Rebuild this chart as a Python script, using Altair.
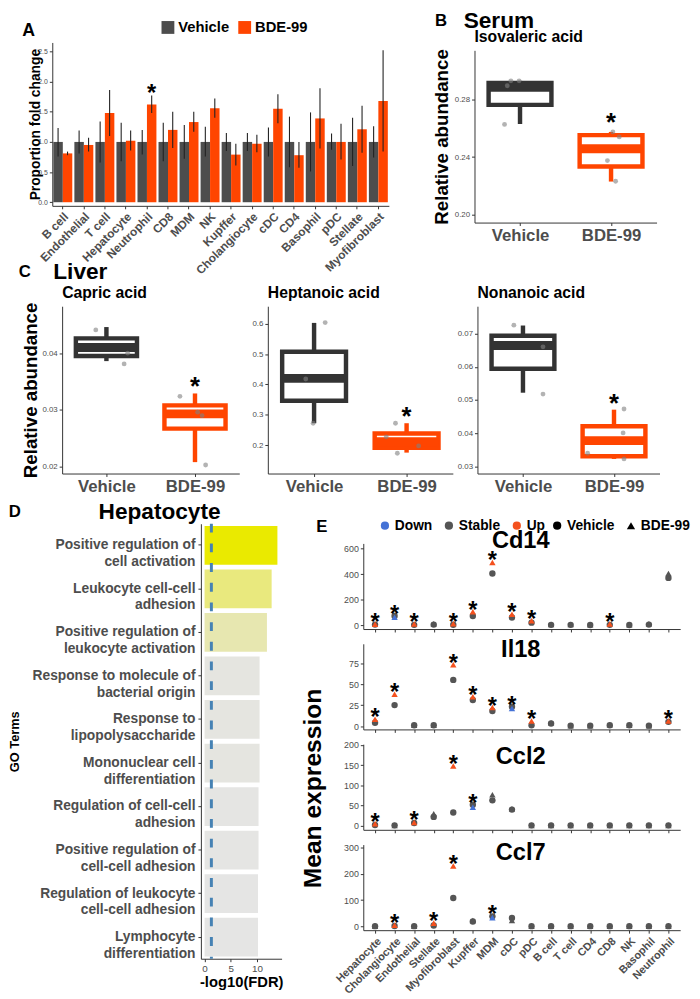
import altair as alt
import pandas as pd

FONT = "Liberation Sans"
VEH = "#4d4d4d"
BDE = "#ff4500"
VEH_BOX = "#333333"
E_BLUE = "#4472d6"
E_GREY = "#555555"
E_ORANGE = "#f4511e"
LBL = "#4d4d4d"

# ---------------- Panel A data ----------------
a_cells = ["B cell", "Endothelial", "T cell", "Hepatocyte", "Neutrophil", "CD8", "MDM", "NK",
           "Kupffer", "Cholangiocyte", "cDC", "CD4", "Basophil", "pDC", "Stellate", "Myofibroblast"]
a_veh_mean = [1.0] * 16
a_veh_lo = [0.76, 0.81, 0.66, 0.68, 0.79, 0.68, 0.72, 0.76, 0.85, 0.85, 0.76, 0.58, 0.51, 0.87, 0.60, 0.74]
a_veh_hi = [1.23, 1.19, 1.34, 1.32, 1.20, 1.32, 1.28, 1.25, 1.15, 1.15, 1.24, 1.42, 1.49, 1.14, 1.40, 1.26]
a_bde_mean = [0.81, 0.95, 1.48, 1.02, 1.62, 1.20, 1.33, 1.56, 0.79, 0.97, 1.55, 0.78, 1.39, 1.00, 1.21, 1.68]
a_bde_lo = [0.78, 0.84, 1.10, 0.86, 1.48, 0.90, 1.17, 1.40, 0.61, 0.83, 1.31, 0.57, 0.89, 0.71, 0.82, 0.84]
a_bde_hi = [0.84, 1.07, 1.86, 1.19, 1.77, 1.50, 1.50, 1.72, 0.97, 1.12, 1.79, 1.00, 1.89, 1.30, 1.60, 2.52]
a_sig = ["Neutrophil"]
a_ticks = [0.0, 0.5, 1.0, 1.5, 2.0, 2.5]
groups = ["Vehicle", "BDE-99"]

# ---------------- Panel B / C data (box plots) ----------------
# stats: (lower whisker, q1, median, q3, upper whisker)
serum_veh_stats = (0.2630, 0.2763, 0.2885, 0.2915, 0.2930)
serum_bde_stats = (0.2230, 0.2335, 0.2458, 0.2553, 0.2575)
serum_veh_pts = [0.2627, 0.2896, 0.2930, 0.2930]
serum_bde_pts = [0.2575, 0.2540, 0.2376, 0.2232]
serum_veh_jit = [-0.17, -0.14, -0.10, -0.01]
serum_bde_jit = [0.02, 0.09, -0.04, 0.05]
serum_ticks = [0.20, 0.24, 0.28]

capric_veh_stats = (0.0386, 0.0395, 0.0410, 0.0426, 0.0446)
capric_bde_stats = (0.0208, 0.0267, 0.0293, 0.0308, 0.0329)
capric_veh_pts = [0.0441, 0.0400, 0.0381]
capric_bde_pts = [0.0324, 0.0296, 0.0290, 0.0203]
capric_veh_jit = [-0.12, 0.24, 0.20]
capric_bde_jit = [-0.17, 0.03, 0.08, 0.12]
capric_ticks = [0.02, 0.03, 0.04]

hept_veh_stats = (0.272, 0.346, 0.420, 0.508, 0.603)
hept_bde_stats = (0.175, 0.191, 0.211, 0.238, 0.272)
hept_veh_pts = [0.604, 0.418, 0.272]
hept_bde_pts = [0.272, 0.227, 0.197, 0.173]
hept_veh_jit = [0.12, -0.09, -0.01]
hept_bde_jit = [-0.12, -0.22, 0.13, -0.10]
hept_ticks = [0.2, 0.3, 0.4, 0.5, 0.6]

nonan_veh_stats = (0.0522, 0.0594, 0.0664, 0.0693, 0.0724)
nonan_bde_stats = (0.0323, 0.0331, 0.0378, 0.0421, 0.0471)
nonan_veh_pts = [0.0725, 0.0660, 0.0518]
nonan_bde_pts = [0.0473, 0.0401, 0.0340, 0.0323]
nonan_veh_jit = [-0.10, 0.22, 0.22]
nonan_bde_jit = [0.11, 0.10, -0.29, 0.11]
nonan_ticks = [0.03, 0.04, 0.05, 0.06, 0.07]

# ---------------- Panel D data ----------------
d_terms = ["Positive regulation of\ncell activation", "Leukocyte cell-cell\nadhesion",
           "Positive regulation of\nleukocyte activation", "Response to molecule of\nbacterial origin",
           "Response to\nlipopolysaccharide", "Mononuclear cell\ndifferentiation",
           "Regulation of cell-cell\nadhesion", "Positive regulation of\ncell-cell adhesion",
           "Regulation of leukocyte\ncell-cell adhesion", "Lymphocyte\ndifferentiation"]
d_vals = [13.9, 12.8, 11.9, 10.5, 10.5, 10.5, 10.3, 10.3, 10.2, 10.2]
d_threshold = 1.3
d_ticks = [0, 5, 10]

# ---------------- Panel E data ----------------
e_cells = ["Hepatocyte", "Cholangiocyte", "Endothelial", "Stellate", "Myofibroblast", "Kupffer", "MDM",
           "cDC", "pDC", "B cell", "T cell", "CD4", "CD8", "NK", "Basophil", "Neutrophil"]
cd14_veh = [5, 72, 3, 5, 4, 72, 405, 60, 20, 3, 3, 2, 3, 2, 5, 370]
cd14_bde = [8, 62, 10, 12, 12, 105, 490, 85, 35, 5, 5, 3, 10, 3, 12, 405]
cd14_status = ["Up", "Down", "Up", "Stable", "Up", "Up", "Up", "Up", "Up", "Stable", "Stable", "Stable",
               "Up", "Stable", "Stable", "Stable"]
il18_veh = [4, 25, 1, 1, 55, 31, 18, 23, 1, 3, 0.5, 0.5, 1, 1, 0.5, 5]
il18_bde = [8, 38, 1, 1, 73, 35, 22, 21, 6, 4, 0.5, 0.5, 1.5, 1, 0.5, 6]
il18_status = ["Up", "Up", "Stable", "Stable", "Up", "Up", "Up", "Down", "Up", "Stable", "Stable", "Stable",
               "Stable", "Stable", "Stable", "Up"]
ccl2_veh = [2, 1, 7, 22, 33, 52, 63, 40, 1, 1, 1, 1, 1, 1, 1, 1]
ccl2_bde = [5, 1, 8, 30, 148, 46, 77, 42, 1, 1, 1, 1, 1, 1, 1, 1]
ccl2_status = ["Up", "Stable", "Up", "Stable", "Up", "Down", "Stable", "Stable", "Stable", "Stable", "Stable",
               "Stable", "Stable", "Stable", "Stable", "Stable"]
ccl7_veh = [0.5, 1, 0.5, 3, 108, 18, 38, 32, 0.5, 0.5, 0.5, 0.5, 0.5, 0.5, 0.5, 0.5]
ccl7_bde = [0.5, 4, 0.5, 12, 230, 22, 33, 22, 0.5, 0.5, 0.5, 0.5, 0.5, 0.5, 0.5, 0.5]
ccl7_status = ["Stable", "Up", "Stable", "Up", "Up", "Stable", "Down", "Stable", "Stable", "Stable", "Stable",
               "Stable", "Stable", "Stable", "Stable", "Stable"]


# ---------------- helpers ----------------
def label(text, x, y, size, align="center", angle=0, color="black"):
    kw = dict(fontSize=size, fontWeight="bold", font=FONT, align=align, baseline="middle", color=color)
    if angle:
        kw["angle"] = angle
    return alt.Chart(pd.DataFrame({"t": [text]})).mark_text(**kw).encode(
        x=alt.value(x), y=alt.value(y), text="t:N")


def spacer(w, h):
    return alt.Chart(pd.DataFrame({"s": [0]})).mark_point(opacity=0).encode(
        x=alt.X("s:Q", axis=None), y=alt.Y("s:Q", axis=None)).properties(width=w, height=h)


def axis_common(**kw):
    base = dict(grid=False, domainColor="#333", tickColor="#333", tickSize=3, labelFont=FONT, titleFont=FONT)
    base.update(kw)
    return alt.Axis(**base)


# ---------------- Panel A ----------------
rows = []
for i, c in enumerate(a_cells):
    rows.append(dict(cell=c, group="Vehicle", mean=a_veh_mean[i], lo=a_veh_lo[i], hi=a_veh_hi[i], star=""))
    rows.append(dict(cell=c, group="BDE-99", mean=a_bde_mean[i], lo=a_bde_lo[i], hi=a_bde_hi[i],
                     star="*" if c in a_sig else ""))
dfA = pd.DataFrame(rows)

xA = alt.X("cell:N", sort=a_cells, scale=alt.Scale(paddingInner=0.1, paddingOuter=0.05),
           axis=axis_common(title=None, labelAngle=315, labelFontSize=12, labelFontWeight="bold",
                            labelColor=LBL, labelAlign="right", labelBaseline="top", labelPadding=2))
xoffA = alt.XOffset("group:N", sort=groups, scale=alt.Scale(domain=groups))
yscaleA = alt.Scale(domain=[-0.06, 2.65], nice=False)
yaxA = axis_common(values=a_ticks, format=".1f", labelFontSize=7, labelColor=LBL,
                   title="Proportion fold change", titleFontSize=14, titleFontWeight="bold",
                   titleColor="black", titleX=-17, titleAngle=270, titleBaseline="middle")

barsA = alt.Chart(dfA).mark_bar().encode(
    x=xA, xOffset=xoffA,
    y=alt.Y("mean:Q", scale=yscaleA, axis=yaxA, title="Proportion fold change"),
    color=alt.Color("group:N", sort=groups, scale=alt.Scale(domain=groups, range=[VEH, BDE]),
                    legend=alt.Legend(title=None, orient="none", legendX=110, legendY=-23,
                                      direction="horizontal", symbolType="square", symbolSize=170,
                                      symbolStrokeWidth=0, labelFontSize=15, labelFontWeight="bold",
                                      labelColor="black", labelFont=FONT, columnPadding=8, labelOffset=3)))
errA = alt.Chart(dfA).mark_rule(color="#222222", strokeWidth=1.1).encode(
    x=xA, xOffset=xoffA, y=alt.Y("lo:Q", scale=yscaleA, axis=yaxA, title="Proportion fold change"), y2="hi:Q")
starA = alt.Chart(dfA).mark_text(fontSize=24, fontWeight="bold", font=FONT, baseline="alphabetic",
                                 dy=6, color="black").encode(
    x=xA, xOffset=xoffA, y=alt.Y("hi:Q", scale=yscaleA, axis=yaxA, title="Proportion fold change"),
    text="star:N")
chartA = alt.layer(barsA, errA, starA, label("A", -24, -12, 18)).properties(width=342, height=166)


# ---------------- Box plot builder ----------------
def box_chart(vstats, bstats, vpts, bpts, vjit, bjit, domain, ticks, fmt, sig, width, height,
              ytitle=None, ytitle_x=-32, texts=(), star_dy=2):
    stats = pd.DataFrame({
        "idx": [0, 1], "group": groups,
        "wlo": [vstats[0], bstats[0]], "q1": [vstats[1], bstats[1]], "med": [vstats[2], bstats[2]],
        "q3": [vstats[3], bstats[3]], "whi": [vstats[4], bstats[4]],
        "star": ["*" if g in sig else "" for g in groups]})
    pts = pd.DataFrame({"idx": [0] * len(vpts) + [1] * len(bpts), "val": list(vpts) + list(bpts),
                        "jit": list(vjit) + list(bjit)})
    xax = axis_common(values=[0, 1], labelExpr="datum.value == 0 ? 'Vehicle' : 'BDE-99'", title=None,
                      labelFontSize=17, labelFontWeight="bold", labelColor=LBL, labelPadding=2)
    xs = alt.Scale(domain=[-0.5, 1.5], nice=False)
    ys = alt.Scale(domain=domain, nice=False, zero=False)
    yax = axis_common(values=ticks, format=fmt, labelFontSize=8, labelColor=LBL, title=ytitle,
                      titleFontSize=19, titleFontWeight="bold", titleColor="black", titleX=ytitle_x,
                      titleAngle=270, titleBaseline="middle")

    def X(f):
        return alt.X(f, type="quantitative", scale=xs, axis=xax, title=None)

    def Y(f):
        return alt.Y(f, type="quantitative", scale=ys, axis=yax, title=ytitle)

    gscale = alt.Scale(domain=groups, range=[VEH_BOX, BDE])
    base = alt.Chart(stats).transform_calculate(xl="datum.idx - 0.345", xr="datum.idx + 0.345")
    whisk = base.mark_rule(strokeWidth=4.5).encode(
        x=X("idx"), y=Y("wlo"), y2="whi:Q", color=alt.Color("group:N", scale=gscale, legend=None))
    box = base.mark_rect(fill="white", strokeWidth=4.5).encode(
        x=X("xl"), x2="xr:Q", y=Y("q1"), y2="q3:Q", stroke=alt.Stroke("group:N", scale=gscale, legend=None))
    med = base.mark_rule(strokeWidth=9).encode(
        x=X("xl"), x2="xr:Q", y=Y("med"), color=alt.Color("group:N", scale=gscale, legend=None))
    points = alt.Chart(pts).transform_calculate(xp="datum.idx + datum.jit").mark_circle(
        size=24, color="#808080", opacity=0.6).encode(x=X("xp"), y=Y("val"))
    star = alt.Chart(stats).mark_text(fontSize=26, fontWeight="bold", font=FONT, baseline="alphabetic",
                                      dy=star_dy, color="black").encode(x=X("idx"), y=Y("whi"), text="star:N")
    layers = [whisk, box, med, points, star] + [label(*t) for t in texts]
    return alt.layer(*layers).properties(width=width, height=height)


chartB = box_chart(serum_veh_stats, serum_bde_stats, serum_veh_pts, serum_bde_pts, serum_veh_jit, serum_bde_jit,
                   [0.1945, 0.3142], serum_ticks, ".2f", ["BDE-99"], 185, 175,
                   ytitle="Relative abundance", ytitle_x=-33, star_dy=-1,
                   texts=[("B", -34, -30, 17), ("Serum", -11, -30, 23, "left"),
                          ("Isovaleric acid", 0, -13, 16, "left")])
chartC1 = box_chart(capric_veh_stats, capric_bde_stats, capric_veh_pts, capric_bde_pts, capric_veh_jit,
                    capric_bde_jit, [0.01879, 0.04827], capric_ticks, ".2f", ["BDE-99"], 180, 170,
                    ytitle="Relative abundance", ytitle_x=-32,
                    texts=[("C", -38, -35, 17), ("Liver", -9, -35, 23, "left"),
                           ("Capric acid", 0, -13, 16, "left")])
chartC2 = box_chart(hept_veh_stats, hept_bde_stats, hept_veh_pts, hept_bde_pts, hept_veh_jit, hept_bde_jit,
                    [0.106, 0.658], hept_ticks, ".1f", ["BDE-99"], 188, 170,
                    texts=[("Heptanoic acid", 0, -13, 16, "left")])
chartC3 = box_chart(nonan_veh_stats, nonan_bde_stats, nonan_veh_pts, nonan_bde_pts, nonan_veh_jit, nonan_bde_jit,
                    [0.0279, 0.0782], nonan_ticks, ".2f", ["BDE-99"], 185, 170,
                    texts=[("Nonanoic acid", 0, -13, 16, "left")])

# ---------------- Panel D ----------------
dfD = pd.DataFrame({"term": d_terms, "val": d_vals})
dmin, dmax = min(d_vals), max(d_vals)
xsD = alt.Scale(domain=[-0.7, 14.7], nice=False)
xaxD = axis_common(values=d_ticks, title="-log10(FDR)", titleFontSize=15, titleFontWeight="bold",
                   titleColor="black", labelFontSize=10, labelColor=LBL, titlePadding=1)
barsD = alt.Chart(dfD).transform_calculate(
    t="pow((datum.val - %f) / %f, 1.5)" % (dmin, dmax - dmin)).mark_bar().encode(
    y=alt.Y("term:N", sort=d_terms, scale=alt.Scale(paddingInner=0.11, paddingOuter=0.05),
            axis=axis_common(title="GO Terms", labelExpr="split(datum.label, '\\n')", labelFontSize=14,
                             labelFontWeight="bold", labelColor=LBL, labelLineHeight=17, labelLimit=300,
                             titleFontSize=13, titleFontWeight="bold", titleColor="black", titleX=-189,
                             titleAngle=270, titleBaseline="middle", labelPadding=3)),
    x=alt.X("val:Q", scale=xsD, axis=xaxD, title="-log10(FDR)"),
    color=alt.Color("t:Q", scale=alt.Scale(domain=[0, 1], range=["#e5e5e4", "#eaea00"]), legend=None))
ruleD = alt.Chart(pd.DataFrame({"thr": [d_threshold]})).mark_rule(
    color="#4682b4", strokeDash=[9, 11], strokeWidth=3).encode(
    x=alt.X("thr:Q", scale=xsD, axis=xaxD, title="-log10(FDR)"))
chartD = alt.layer(barsD, ruleD, label("D", -189, -12, 17), label("Hepatocyte", -42, -12, 23)).properties(
    width=82, height=442)


# ---------------- Panel E ----------------
def e_chart(gene, veh, bde, status, domain, ticks, show_x, title_y, legend=False, extra=()):
    rows = []
    for i, c in enumerate(e_cells):
        rows.append(dict(cell=c, group="Vehicle", val=veh[i], key="Vehicle"))
    for i, c in enumerate(e_cells):
        rows.append(dict(cell=c, group="BDE-99", val=bde[i], key=status[i]))
    df = pd.DataFrame(rows)
    st = pd.DataFrame({"cell": e_cells, "top": [max(a, b) for a, b in zip(veh, bde)],
                       "star": ["*" if s != "Stable" else "" for s in status]})
    if show_x:
        xax = axis_common(title=None, labelAngle=315, labelFontSize=11, labelFontWeight="bold", labelColor=LBL,
                          labelAlign="right", labelBaseline="top", labelPadding=2)
    else:
        xax = axis_common(title=None, labels=False)
    xE = alt.X("cell:N", sort=e_cells, scale=alt.Scale(type="point", padding=0.6), axis=xax)
    ys = alt.Scale(domain=domain, nice=False, zero=False)
    yax = axis_common(values=ticks, title=None, labelFontSize=9, labelColor=LBL)
    if legend:
        cleg = alt.Legend(title=None, orient="none", legendX=15, legendY=-25, direction="horizontal",
                          values=["Down", "Stable", "Up"], symbolType="circle", symbolSize=70,
                          symbolStrokeWidth=0, labelFontSize=14, labelFontWeight="bold", labelColor="black",
                          labelFont=FONT, columnPadding=9, labelOffset=3)
        sleg = alt.Legend(title=None, orient="none", legendX=190, legendY=-25, direction="horizontal",
                          symbolSize=70, symbolFillColor="black", symbolStrokeColor="black",
                          symbolStrokeWidth=0, labelFontSize=14, labelFontWeight="bold", labelColor="black",
                          labelFont=FONT, columnPadding=9, labelOffset=3)
    else:
        cleg = None
        sleg = None
    pts = alt.Chart(df).mark_point(filled=True, size=42, opacity=1).encode(
        x=xE, y=alt.Y("val:Q", scale=ys, axis=yax, title=None),
        color=alt.Color("key:N", scale=alt.Scale(domain=["Down", "Stable", "Up", "Vehicle"],
                                                 range=[E_BLUE, E_GREY, E_ORANGE, E_GREY]), legend=cleg),
        shape=alt.Shape("group:N", scale=alt.Scale(domain=groups, range=["circle", "triangle-up"]), legend=sleg))
    stars = alt.Chart(st).mark_text(fontSize=24, fontWeight="bold", font=FONT, baseline="alphabetic", dy=6,
                                    color="black").encode(
        x=xE, y=alt.Y("top:Q", scale=ys, axis=yax, title=None), text="star:N")
    layers = [pts, stars, label(gene, 160, title_y, 24)] + [label(*t) for t in extra]
    return alt.layer(*layers).properties(width=322, height=87)


e1 = e_chart("Cd14", cd14_veh, cd14_bde, cd14_status, [-30, 640], [0, 200, 400, 600], False, -2, legend=True,
             extra=[("E", -42, -17, 17)])
e2 = e_chart("Il18", il18_veh, il18_bde, il18_status, [-4, 98], [0, 25, 50, 75], False, 6,
             extra=[("Mean expression", -51, 147, 25, "center", 270)])
e3 = e_chart("Ccl2", ccl2_veh, ccl2_bde, ccl2_status, [-10, 202], [0, 50, 100, 150, 200], False, 13)
e4 = e_chart("Ccl7", ccl7_veh, ccl7_bde, ccl7_status, [-15, 312], [0, 100, 200, 300], True, 9)


def indep(ch):
    return ch.resolve_scale(color="independent", shape="independent", stroke="independent")


ecol = indep(alt.vconcat(spacer(322, 5), e1, e2, e3, e4, spacing=15, bounds="flush"))
bcol = indep(alt.vconcat(spacer(185, 8), chartB, spacing=0, bounds="flush"))

row1 = indep(alt.hconcat(chartA, spacer(87, 1), bcol, spacing=0, bounds="flush"))
row2 = indep(alt.hconcat(spacer(10, 1), chartC1, spacer(29, 1), chartC2, spacer(25, 1), chartC3,
                         spacing=0, bounds="flush"))
row3 = indep(alt.hconcat(spacer(151, 1), chartD, spacer(83, 1), ecol, spacing=0, bounds="flush"))

# nested rows count as zero height in a flush layout, so the spacers carry each row's offset
chart = indep(alt.vconcat(row1, spacer(1, 268), row2, spacer(1, 221), row3, spacing=0, bounds="flush"))
chart = chart.properties(padding={"left": 0, "top": -6, "right": 2, "bottom": 2}).configure_view(
    stroke=None).configure_axis(domainWidth=1, tickWidth=1).configure_text(font=FONT)

chart.save("out.html", embed_options={"renderer": "svg", "actions": False})
